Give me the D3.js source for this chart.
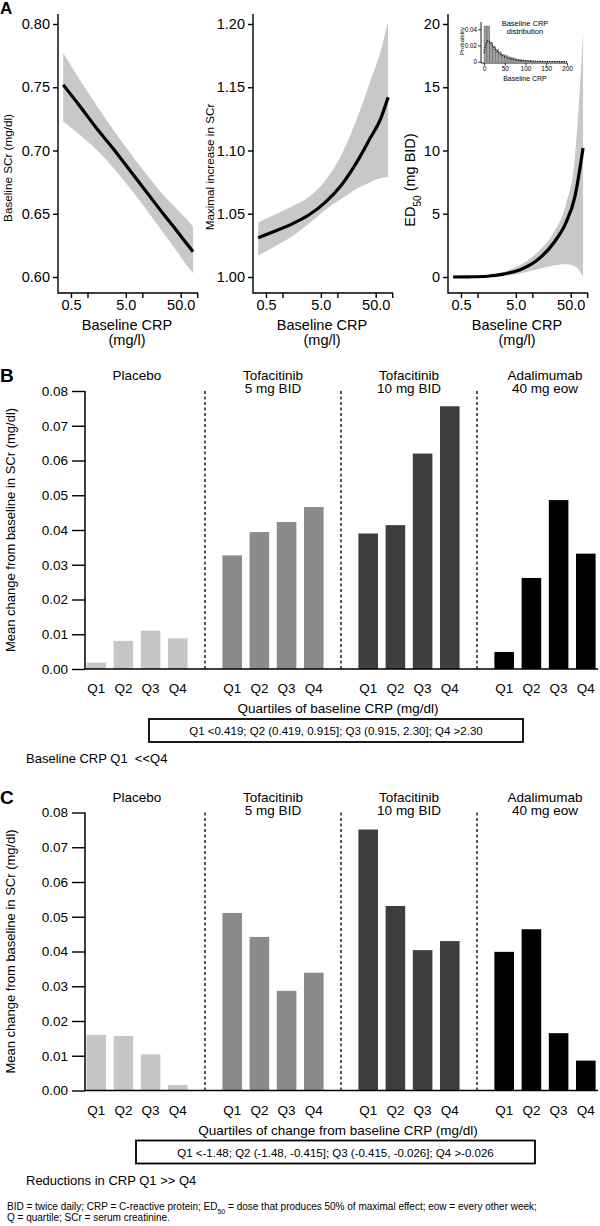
<!DOCTYPE html>
<html><head><meta charset="utf-8">
<script src="https://d3js.org/d3.v7.min.js"></script>
<style>
body{margin:0;background:#fff}
svg{display:block}
text{font-family:"Liberation Sans",Arial,Helvetica,sans-serif;fill:#000;white-space:pre}
</style></head><body>
<svg id="chart" width="600" height="1226"></svg>
<script>
// ---------------- DATA ----------------
// Panel A: model fits vs baseline CRP (mg/l)
const crpGrid   = [0.36, 0.7, 1.5, 3, 6, 12, 25, 40, 60, 84];
const scrFit    = [0.752, 0.736, 0.717, 0.701, 0.684, 0.667, 0.649, 0.638, 0.628, 0.620];
const scrUpper  = [0.777, 0.757, 0.735, 0.716, 0.698, 0.681, 0.664, 0.655, 0.647, 0.640];
const scrLower  = [0.723, 0.713, 0.700, 0.686, 0.670, 0.653, 0.634, 0.622, 0.611, 0.603];
const maxFit    = [1.031, 1.036, 1.042, 1.049, 1.059, 1.073, 1.094, 1.110, 1.124, 1.142];
const maxUpper  = [1.043, 1.049, 1.056, 1.063, 1.076, 1.097, 1.130, 1.155, 1.177, 1.202];
const maxLower  = [1.017, 1.024, 1.032, 1.042, 1.053, 1.062, 1.071, 1.075, 1.078, 1.079];
const edFit     = [0.0, 0.015, 0.06, 0.23, 0.58, 1.3, 2.75, 4.2, 6.4, 10.2];
const edUpper   = [0.03, 0.06, 0.15, 0.4, 0.95, 1.9, 3.6, 5.6, 9.5, 19.3];
const edLower   = [-0.03, -0.01, 0.0, 0.08, 0.28, 0.6, 0.9, 1.0, 0.85, 0.0];
const crpTickLabels = [0.5, 5, 50];
const crpTickMinor  = [1, 10, 100];
const scrTicks = [0.60, 0.65, 0.70, 0.75, 0.80];
const maxTicks = [1.00, 1.05, 1.10, 1.15, 1.20];
const edTicks  = [0, 5, 10, 15, 20];
// Inset: baseline CRP distribution
const histBinWidth = 7;
const histValues = [0.044, 0.044, 0.024, 0.019, 0.015, 0.012, 0.009, 0.0075, 0.006, 0.005, 0.004, 0.0032,
                    0.0026, 0.002, 0.0016, 0.0013, 0.001, 0.0008, 0.0006, 0.0005, 0.0004, 0.0003, 0.0003,
                    0.0002, 0.0002, 0.0002, 0.0001, 0.0001];
const densX = [0, 5, 10, 15, 20, 30, 40, 50, 60, 75, 100, 150, 200];
const densY = [0.011, 0.022, 0.026, 0.024, 0.020, 0.014, 0.009, 0.006, 0.004, 0.0022, 0.001, 0.0003, 0.0001];
const insetXTicks = [0, 50, 100, 150, 200];
const insetYTicks = [0, 0.02, 0.04];

// Panels B & C
const groupLine1 = ["Placebo", "Tofacitinib", "Tofacitinib", "Adalimumab"];
const groupLine2 = ["", "5 mg BID", "10 mg BID", "40 mg eow"];
const quartiles = ["Q1", "Q2", "Q3", "Q4"];
const barTicks = [0, 0.01, 0.02, 0.03, 0.04, 0.05, 0.06, 0.07, 0.08];
const bPlacebo = [0.0018, 0.0081, 0.0110, 0.0088];
const bTofa5   = [0.0327, 0.0394, 0.0423, 0.0466];
const bTofa10  = [0.0390, 0.0414, 0.0620, 0.0756];
const bAda     = [0.0049, 0.0262, 0.0486, 0.0332];
const cPlacebo = [0.0160, 0.0157, 0.0104, 0.0016];
const cTofa5   = [0.0511, 0.0442, 0.0287, 0.0339];
const cTofa10  = [0.0751, 0.0531, 0.0404, 0.0430];
const cAda     = [0.0399, 0.0464, 0.0165, 0.0086];
const groupColors = ["#c6c6c6", "#8b8b8b", "#3e3e3e", "#000000"];

// ---------------- DRAWING ----------------
const svg = d3.select("#chart");
const idx = d3.range(crpGrid.length);

function styleAxis(g, size) {
  g.attr("font-family", null).attr("font-size", null);
  g.selectAll("text").style("font-size", size + "px").attr("fill", "#000");
  g.selectAll("line").attr("stroke", "#000").attr("stroke-width", 1.4);
}

function panelA(ax, yDom, yTicks, yFmt, fit, up, lo) {
  const g = svg.append("g");
  const x = d3.scaleLog().domain([0.29, 95]).range([ax, ax + 138]);
  const y = d3.scaleLinear().domain(yDom).range([277, 24]);
  const xAxisY = 293;
  g.append("path").datum(idx).attr("fill", "#c8c8c8")
    .attr("d", d3.area().x(i => x(crpGrid[i])).y0(i => y(lo[i])).y1(i => y(up[i])).curve(d3.curveMonotoneX));
  g.append("path").datum(idx).attr("fill", "none").attr("stroke", "#000").attr("stroke-width", 3.2)
    .attr("d", d3.line().x(i => x(crpGrid[i])).y(i => y(fit[i])).curve(d3.curveMonotoneX));
  const ya = g.append("g").attr("transform", `translate(${ax},0)`)
    .call(d3.axisLeft(y).tickValues(yTicks).tickFormat(yFmt).tickSize(5).tickPadding(3));
  ya.select(".domain").remove();
  styleAxis(ya, 14.5);
  const xa = g.append("g").attr("transform", `translate(0,${xAxisY})`)
    .call(d3.axisBottom(x).tickValues(crpTickLabels.concat(crpTickMinor))
      .tickFormat(d => crpTickLabels.includes(d) ? d3.format(".1f")(d) : "").tickSize(5).tickPadding(2));
  xa.select(".domain").remove();
  styleAxis(xa, 14.5);
  g.append("path").attr("fill", "none").attr("stroke", "#000").attr("stroke-width", 1.4)
    .attr("d", `M${ax},14V${xAxisY}H${ax + 140}`);
  const cx = ax + 69;
  g.append("text").attr("x", cx).attr("y", 330).attr("text-anchor", "middle").style("font-size", "14.5px").text("Baseline CRP");
  g.append("text").attr("x", cx).attr("y", 345).attr("text-anchor", "middle").style("font-size", "14.5px").text("(mg/l)");
  return g;
}

const gA1 = panelA(58, [0.60, 0.80], scrTicks, d3.format(".2f"), scrFit, scrUpper, scrLower);
gA1.append("text").attr("transform", "translate(12,168) rotate(-90)").attr("text-anchor", "middle")
  .style("font-size", "11.7px").text("Baseline SCr (mg/dl)");
const gA2 = panelA(253, [1.00, 1.20], maxTicks, d3.format(".2f"), maxFit, maxUpper, maxLower);
gA2.append("text").attr("transform", "translate(214,167) rotate(-90)").attr("text-anchor", "middle")
  .style("font-size", "11.7px").text("Maximal increase in SCr");
const gA3 = panelA(448, [0, 20], edTicks, d3.format("d"), edFit, edUpper, edLower);
const edLab = gA3.append("text").attr("transform", "translate(415,180) rotate(-90)").attr("text-anchor", "middle")
  .style("font-size", "14.5px");
edLab.append("tspan").text("ED");
edLab.append("tspan").attr("baseline-shift", "sub").style("font-size", "10px").text("50");
edLab.append("tspan").text(" (mg BID)");

// Inset histogram
(function inset() {
  const g = svg.append("g");
  const x = d3.scaleLinear().domain([0, 200]).range([484, 567]);
  const y = d3.scaleLinear().domain([0, 0.04]).range([61.7, 29.3]);
  g.selectAll("rect").data(histValues).join("rect")
    .attr("x", (d, i) => x(i * histBinWidth)).attr("width", x(histBinWidth) - x(0))
    .attr("y", d => y(d)).attr("height", d => y(0) - y(d))
    .attr("fill", "#a0a0a0").attr("stroke", "#555").attr("stroke-width", 0.4);
  g.append("path").datum(d3.range(densX.length)).attr("fill", "none").attr("stroke", "#000")
    .attr("stroke-width", 1.1).attr("stroke-dasharray", "1.2,1.2")
    .attr("d", d3.line().x(i => x(densX[i])).y(i => y(densY[i])).curve(d3.curveMonotoneX));
  const ya = g.append("g").attr("transform", "translate(481,0)")
    .call(d3.axisLeft(y).tickValues(insetYTicks).tickFormat(d => d === 0 ? "0" : d3.format(".2f")(d)).tickSize(3).tickPadding(1));
  ya.select(".domain").remove();
  styleAxis(ya, 6.3);
  ya.selectAll("line").attr("stroke-width", 0.8);
  const xa = g.append("g").attr("transform", "translate(0,63)")
    .call(d3.axisBottom(x).tickValues(insetXTicks).tickSize(2.5).tickPadding(1));
  xa.select(".domain").remove();
  styleAxis(xa, 6.5);
  xa.selectAll("line").attr("stroke-width", 0.8);
  g.append("path").attr("fill", "none").attr("stroke", "#000").attr("stroke-width", 0.9)
    .attr("d", "M481,22V63H567");
  g.append("text").attr("x", 525).attr("y", 81).attr("text-anchor", "middle").style("font-size", "7px").text("Baseline CRP");
  g.append("text").attr("x", 525).attr("y", 25.5).attr("text-anchor", "middle").style("font-size", "7.5px").text("Baseline CRP");
  g.append("text").attr("x", 525).attr("y", 34).attr("text-anchor", "middle").style("font-size", "7.5px").text("distribution");
  g.append("text").attr("transform", "translate(464,41) rotate(-90)").attr("text-anchor", "middle")
    .style("font-size", "6px").text("Probability");
})();

svg.append("text").attr("x", 0).attr("y", 14).style("font-size", "17px").style("font-weight", "bold").text("A");

function barPanel(dy, series, letter, xLabel, boxText, boxX0, boxX1, note) {
  const g = svg.append("g").attr("transform", `translate(0,${dy})`);
  const y = d3.scaleLinear().domain([0, 0.08]).range([669, 391]);
  const gx = d3.scaleBand().domain(d3.range(4)).range([69, 613]);
  const qx = d3.scaleBand().domain(quartiles).range([0, gx.bandwidth()]).paddingInner(0.28).paddingOuter(0.64);
  series.forEach((vals, gi) => {
    g.selectAll(null).data(vals).join("rect")
      .attr("x", (d, i) => gx(gi) + qx(quartiles[i])).attr("width", qx.bandwidth())
      .attr("y", d => y(d)).attr("height", d => y(0) - y(d)).attr("fill", groupColors[gi]);
    g.selectAll(null).data(quartiles).join("text")
      .attr("x", q => gx(gi) + qx(q) + qx.bandwidth() / 2).attr("y", 693)
      .attr("text-anchor", "middle").style("font-size", "13.5px").text(q => q);
    const tx = gx(gi) + gx.bandwidth() / 2;
    g.append("text").attr("x", tx).attr("y", 380).attr("text-anchor", "middle").style("font-size", "13.5px").text(groupLine1[gi]);
    if (groupLine2[gi]) g.append("text").attr("x", tx).attr("y", 393).attr("text-anchor", "middle").style("font-size", "13.5px").text(groupLine2[gi]);
    if (gi > 0) g.append("line").attr("x1", gx(gi)).attr("x2", gx(gi)).attr("y1", y(0.08)).attr("y2", y(0))
      .attr("stroke", "#000").attr("stroke-width", 1.3).attr("stroke-dasharray", "3,2.5");
  });
  const ya = g.append("g").attr("transform", "translate(85,0)")
    .call(d3.axisLeft(y).tickValues(barTicks).tickFormat(d3.format(".2f")).tickSize(13).tickPadding(4));
  ya.select(".domain").remove();
  styleAxis(ya, 13.5);
  g.append("path").attr("fill", "none").attr("stroke", "#000").attr("stroke-width", 1.5)
    .attr("d", `M85,${y(0.08)}V${y(0)}H598`);
  g.append("text").attr("transform", `translate(14.5,${(y(0) + y(0.08)) / 2}) rotate(-90)`).attr("text-anchor", "middle")
    .style("font-size", "13px").text("Mean change from baseline in SCr (mg/dl)");
  g.append("text").attr("x", 0).attr("y", 382).style("font-size", "19px").style("font-weight", "bold").text(letter);
  g.append("text").attr("x", 338).attr("y", 713).attr("text-anchor", "middle").style("font-size", "13.5px").text(xLabel);
  g.append("rect").attr("x", boxX0).attr("y", 719).attr("width", boxX1 - boxX0).attr("height", 23)
    .attr("fill", "none").attr("stroke", "#000").attr("stroke-width", 1.8);
  g.append("text").attr("x", (boxX0 + boxX1) / 2).attr("y", 735).attr("text-anchor", "middle").style("font-size", "11.5px").text(boxText);
  g.append("text").attr("x", 26).attr("y", 763).style("font-size", "13px").text(note);
}

barPanel(0, [bPlacebo, bTofa5, bTofa10, bAda], "B", "Quartiles of baseline CRP (mg/dl)",
  "Q1 <0.419; Q2 (0.419, 0.915]; Q3 (0.915, 2.30]; Q4 >2.30", 149, 523, "Baseline CRP Q1  <<Q4");
barPanel(421.5, [cPlacebo, cTofa5, cTofa10, cAda], "C", "Quartiles of change from baseline CRP (mg/dl)",
  "Q1 <-1.48; Q2 (-1.48, -0.415]; Q3 (-0.415, -0.026]; Q4 >-0.026", 136, 535, "Reductions in CRP Q1 >> Q4");

const f1 = svg.append("text").attr("x", 7).attr("y", 1210).style("font-size", "10px");
f1.append("tspan").text("BID = twice daily; CRP = C-reactive protein; ED");
f1.append("tspan").attr("baseline-shift", "sub").style("font-size", "7px").text("50");
f1.append("tspan").text(" = dose that produces 50% of maximal effect; eow = every other week;");
svg.append("text").attr("x", 7).attr("y", 1221).style("font-size", "10px").text("Q = quartile; SCr = serum creatinine.");
</script>
</body></html>
